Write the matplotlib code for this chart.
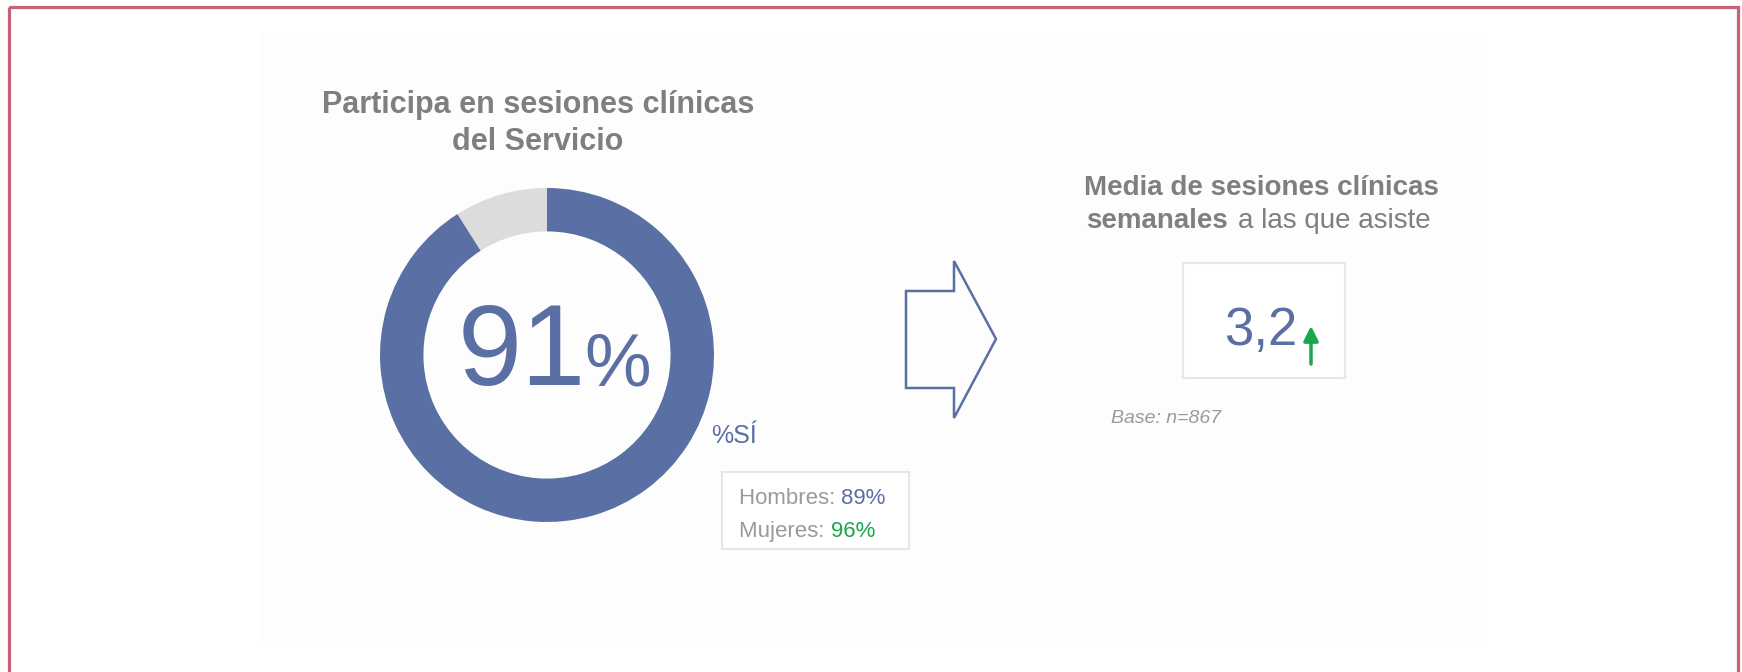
import matplotlib
matplotlib.use("Agg")
import matplotlib.pyplot as plt
from matplotlib.patches import Rectangle, Polygon

plt.rcParams['font.family'] = ['Liberation Sans', 'DejaVu Sans']

# data
donut_labels = ["Sí", "No"]
donut_values = [91, 9]
gender_labels = ["Hombres: ", "Mujeres: "]
gender_values = ["89%", "96%"]
mean_sessions = "3,2"
base_text = "Base: n=867"

BLUE = "#5a6fa3"
LIGHT = "#dcdcdc"
GREEN = "#1aa64a"
GRAY_TITLE = "#7f7f7f"
GRAY_TXT = "#9a9a9a"
W, H = 1742, 672

fig = plt.figure(figsize=(W / 100, H / 100), dpi=100)
ax = fig.add_axes([0, 0, 1, 1])
ax.set_xlim(0, W)
ax.set_ylim(H, 0)
ax.axis("off")

# outer pink frame and light panel
ax.add_patch(Rectangle((9, 7), 1729, 720, fill=False, ec="#c56478", lw=2.3))
ax.add_patch(Rectangle((261, 32), 1226, 610, fc="#fdfdfd", ec="none"))

# left title
ax.text(538, 113, "Participa en sesiones clínicas", ha="center", va="baseline",
        fontsize=22, fontweight="bold", color=GRAY_TITLE)
ax.text(538, 150, "del Servicio", ha="center", va="baseline",
        fontsize=22, fontweight="bold", color=GRAY_TITLE)

# donut
cx, cy, r = 547, 355, 167
dax = fig.add_axes([(cx - r) / W, (H - cy - r) / H, 2 * r / W, 2 * r / H])
dax.pie(donut_values, colors=[BLUE, LIGHT], startangle=90, counterclock=False,
        radius=1, wedgeprops=dict(width=0.26, edgecolor="none"))
dax.set_xlim(-1, 1)
dax.set_ylim(-1, 1)
dax.axis("off")

ax.text(458, 385, str(donut_values[0]), ha="left", va="baseline", fontsize=83, color=BLUE)
ax.text(584, 385, "%", ha="left", va="baseline", fontsize=54, color=BLUE)
ax.text(711, 443, "%SÍ", ha="left", va="baseline", fontsize=18, color=BLUE)

# gender box
ax.add_patch(Rectangle((722, 472), 187, 77, fc="white", ec="#e6e6e6", lw=1.5))
for i, (lab, val, col) in enumerate(zip(gender_labels, gender_values, [BLUE, GREEN])):
    y = 504 + i * 33
    t = ax.text(739, y, lab, ha="left", va="baseline", fontsize=16, color=GRAY_TXT)
    fig.canvas.draw()
    bb = t.get_window_extent()
    ax.text(bb.x1, y, val, ha="left", va="baseline", fontsize=16, color=col)

# outlined arrow
arrow_pts = [(906, 291), (954, 291), (954, 261), (996, 339),
             (954, 418), (954, 388), (906, 388)]
ax.add_patch(Polygon(arrow_pts, closed=True, fill=False, ec=BLUE, lw=1.8, joinstyle="miter"))

# right title
ax.text(1261, 195, "Media de sesiones clínicas", ha="center", va="baseline",
        fontsize=20, fontweight="bold", color=GRAY_TITLE)
ax.text(1086, 228, "semanales", ha="left", va="baseline",
        fontsize=20, fontweight="bold", color=GRAY_TITLE)
ax.text(1238, 228, "a las que asiste", ha="left", va="baseline",
        fontsize=20, color=GRAY_TITLE)

# value box
ax.add_patch(Rectangle((1183, 263), 162, 115, fc="white", ec="#e6e6e6", lw=1.5))
ax.text(1224, 345, mean_sessions, ha="left", va="baseline", fontsize=38, color=BLUE)
ax.annotate("", xy=(1311, 326), xytext=(1311, 364),
            arrowprops=dict(arrowstyle="-|>", color=GREEN, lw=2.5, mutation_scale=22,
                            shrinkA=0, shrinkB=0))

ax.text(1111, 423, base_text, ha="left", va="baseline", fontsize=14,
        style="italic", color=GRAY_TXT)

fig.savefig("out.png", dpi=100)
